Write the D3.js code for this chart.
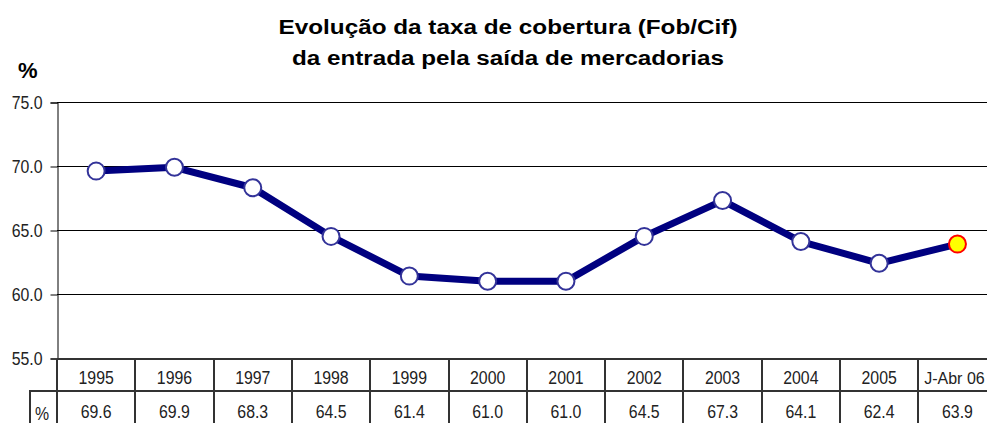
<!DOCTYPE html>
<html>
<head>
<meta charset="utf-8">
<script src="https://cdn.jsdelivr.net/npm/d3@7/dist/d3.min.js"></script>
<style>
  body { margin: 0; background: #fff; }
  svg { display: block; }
  .narrow { font-family: "Liberation Sans", Arial, sans-serif; }
</style>
</head>
<body>
<div id="chart"></div>
<script>
const categories = ["1995", "1996", "1997", "1998", "1999", "2000", "2001", "2002", "2003", "2004", "2005", "J-Abr 06"];
const coverage = [69.6, 69.9, 68.3, 64.5, 61.4, 61.0, 61.0, 64.5, 67.3, 64.1, 62.4, 63.9];
const value_labels = ["69.6", "69.9", "68.3", "64.5", "61.4", "61.0", "61.0", "64.5", "67.3", "64.1", "62.4", "63.9"];
const y_ticks = [55, 60, 65, 70, 75];
const title_lines = ["Evolução da taxa de cobertura (Fob/Cif)", "da entrada pela saída de mercadorias"];

const width = 987;
const height = 423;
const left = 57;
const top_y = 102;
const bottom_y = 358;
const col_w = 78.3;
const NARROW = 0.88;   // the reference uses a condensed face

let svg = d3.select("#chart")
    .append("svg")
    .attr("width", width)
    .attr("height", height);

function squeeze(sel) {
    // squash text horizontally, there's no narrow font installed
    sel.each(function () {
        let w = this.getComputedTextLength();
        d3.select(this)
            .attr("textLength", w * NARROW)
            .attr("lengthAdjust", "spacingAndGlyphs");
    });
}

// Title (stretched wide like the reference)
const title_widths = [459, 432];
const title_y = [34, 65];
svg.append("g")
    .selectAll("text")
    .data(title_lines)
    .enter().append("text")
    .attr("x", 508).attr("y", (d, i) => title_y[i])
    .attr("text-anchor", "middle")
    .attr("textLength", (d, i) => title_widths[i])
    .attr("lengthAdjust", "spacingAndGlyphs")
    .style("font-family", "Liberation Sans, Arial, sans-serif")
    .style("font-weight", "bold")
    .style("font-size", "20px")
    .text(d => d);

svg.append("text")
    .attr("x", 18).attr("y", 78)
    .style("font-family", "Liberation Sans, Arial, sans-serif")
    .style("font-weight", "bold")
    .style("font-size", "22px")
    .text("%");

let x = d3.scaleBand()
    .domain(categories)
    .range([left, left + col_w * categories.length])
    .padding(0);

let y = d3.scaleLinear()
    .domain([55, 75])
    .range([bottom_y, top_y]);

// Gridlines
svg.append("g")
    .selectAll("line")
    .data(y_ticks.filter(d => d > 55))
    .enter().append("line")
    .attr("x1", left).attr("x2", width)
    .attr("y1", d => Math.round(y(d)) + 0.5).attr("y2", d => Math.round(y(d)) + 0.5)
    .attr("stroke", "#000")
    .attr("stroke-width", 1);

// Y axis
let y_axis = svg.append("g")
    .attr("transform", "translate(" + (left + 0.5) + ",0.5)")
    .call(d3.axisLeft(y).tickValues(y_ticks).tickFormat(d3.format(".1f")).tickSize(7).tickPadding(8));
y_axis.select(".domain").attr("stroke", "#000");
y_axis.selectAll(".tick line").attr("stroke", "#000");
y_axis.selectAll("text")
    .attr("class", "narrow")
    .attr("dy", "0.36em")
    .style("font-size", "18px")
    .attr("fill", "#222")
    .call(squeeze);

// Line
let line = d3.line()
    .x((d, i) => x(categories[i]) + x.bandwidth() / 2)
    .y(d => y(d));

svg.append("path")
    .datum(coverage)
    .attr("d", line)
    .attr("fill", "none")
    .attr("stroke", "#000080")
    .attr("stroke-width", 7)
    .attr("stroke-linejoin", "round");

svg.append("g")
    .selectAll("circle")
    .data(coverage)
    .enter().append("circle")
    .attr("cx", (d, i) => x(categories[i]) + x.bandwidth() / 2)
    .attr("cy", d => y(d))
    .attr("r", 8.5)
    .attr("fill", (d, i) => i === coverage.length - 1 ? "#ffff00" : "#fff")
    .attr("stroke", (d, i) => i === coverage.length - 1 ? "#ff0000" : "#333399")
    .attr("stroke-width", 2);

// Data table
const row1 = bottom_y + 1;
const row2 = 391;
const row3 = 426;
let table = svg.append("g")
    .attr("stroke", "#333")
    .attr("stroke-width", 2);

table.append("line")
    .attr("x1", left).attr("x2", width)
    .attr("y1", row1).attr("y2", row1);
table.append("line")
    .attr("x1", 29).attr("x2", width)
    .attr("y1", row2).attr("y2", row2);
table.append("line")
    .attr("x1", 30).attr("x2", 30)
    .attr("y1", row2).attr("y2", row3);
table.selectAll("line.col")
    .data(categories)
    .enter().append("line")
    .attr("class", "col")
    .attr("x1", d => Math.round(x(d))).attr("x2", d => Math.round(x(d)))
    .attr("y1", row1).attr("y2", row3);

// header row; the last column runs past the picture edge, so its label is kept smaller
const last = categories[categories.length - 1];
svg.append("g")
    .selectAll("text")
    .data(categories)
    .enter().append("text")
    .attr("class", "narrow")
    .attr("x", d => x(d) + x.bandwidth() / 2 - (d === last ? 3 : 0))
    .attr("y", 384)
    .attr("text-anchor", "middle")
    .style("font-size", d => d === last ? "16px" : "18px")
    .attr("fill", "#222")
    .text(d => d)
    .filter(d => d !== last)
    .call(squeeze);

svg.append("g")
    .selectAll("text")
    .data(value_labels)
    .enter().append("text")
    .attr("class", "narrow")
    .attr("x", (d, i) => x(categories[i]) + x.bandwidth() / 2)
    .attr("y", 418)
    .attr("text-anchor", "middle")
    .style("font-size", "18px")
    .attr("fill", "#222")
    .text(d => d)
    .call(squeeze);

svg.append("text")
    .attr("class", "narrow")
    .attr("x", 35).attr("y", 420)
    .style("font-size", "18px")
    .attr("fill", "#222")
    .text("%")
    .call(squeeze);
</script>
</body>
</html>
